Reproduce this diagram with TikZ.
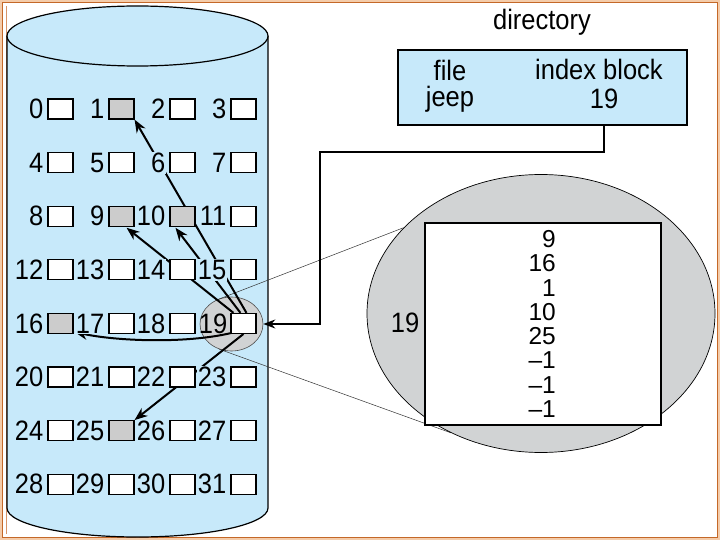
\documentclass[tikz,border=0pt]{standalone}
\usepackage{fontspec}
\setmainfont{Liberation Sans}
\usetikzlibrary{shapes.geometric,arrows.meta,calc}
\pgfdeclarelayer{bg}
\pgfdeclarelayer{mid}
\pgfsetlayers{bg,mid,main}
\definecolor{cyl}{RGB}{199,233,250}
\definecolor{blk}{RGB}{204,204,204}
\definecolor{ell}{RGB}{209,211,212}
\definecolor{frameo}{RGB}{196,104,40}
\definecolor{peach}{RGB}{244,204,170}
\tikzset{
  txt/.style={font=\fontsize{25.5}{30}\selectfont, inner sep=0pt, yscale=1.1},
  idxtxt/.style={font=\fontsize{24.5}{28}\selectfont, inner sep=0pt, anchor=east},
  blockbox/.style={draw=black, line width=1.1pt, fill=white, minimum width=25pt, minimum height=20pt, inner sep=0pt},
  usedbox/.style={blockbox, fill=blk},
  blabel/.style={txt, anchor=east, fill=cyl, inner sep=1pt},
  ptr/.style={line width=2pt, -{Stealth[length=13pt,width=10pt]}},
  thinline/.style={line width=0.5pt, draw=black!80},
}
\begin{document}
\begin{tikzpicture}[x=1pt,y=-1pt]
\useasboundingbox (0,0) rectangle (720,540);
\begin{pgfonlayer}{bg}
  \fill[peach] (0,0) rectangle (720,540);
  \filldraw[fill=white, draw=frameo, line width=1.6pt] (2.5,2.5) rectangle (717.5,537.5);
  \draw[frameo!70, line width=0.8pt] (6,6) -- (6,534);
  % cylinder
  \filldraw[fill=cyl, draw=black, line width=1.2pt] (7,36) -- (7,508) arc[start angle=180, end angle=0, x radius=130.5, y radius=29] -- (268,36);
  \filldraw[fill=cyl, draw=black, line width=1.2pt] (137.5,36) ellipse [x radius=130.5, y radius=30];
  \node[ellipse, draw=black!70, line width=0.6pt, fill=ell, minimum width=63pt, minimum height=54pt, inner sep=0pt] (sel) at (231.5,324) {};
\end{pgfonlayer}

% blocks
\foreach \r in {0,...,7}{
  \foreach \c in {0,...,3}{
    \pgfmathtruncatemacro{\n}{4*\r+\c}
    \pgfmathsetmacro{\xx}{60.5+61*\c}
    \pgfmathsetmacro{\yy}{109+53.6*\r}
    \node[blockbox] (b\n) at (\xx,\yy) {};
  }
}
\foreach \n in {1,9,10,16,25}{ \node[usedbox] at (b\n) {}; }
\foreach \n in {0,...,18,20,21,...,31}{
  \node[blabel] (l\n) at ($(b\n.west)+(-3,0)$) {\n};
}
\node[txt, anchor=east] (l19) at ($(b19.west)+(-3,0)$) {19};

% directory
\node[txt] (dirt) at (542,22) {directory};
\node[draw=black, line width=1.4pt, fill=cyl, minimum width=289pt, minimum height=75pt, inner sep=0pt] (dir) at (542.5,87.5) {};
\node[txt, anchor=base] (tfile) at (450,81) {file};
\node[txt, anchor=base] (tjeep) at (450,107) {jeep};
\node[txt, anchor=base] (tidx) at (599,80) {index block};
\node[txt, anchor=base] (t19) at (604,109) {19};

% magnified index block
\node[ellipse, draw=black, line width=0.7pt, fill=ell, minimum width=348pt, minimum height=278pt, inner sep=0pt] (bel) at (541,313.5) {};
\node[draw=black, line width=1.6pt, fill=white, minimum width=236pt, minimum height=202pt, inner sep=0pt] (ib) at (543,324) {};
\node[txt] (i19) at (405,323) {19};
\node[idxtxt] (e1) at (556,239) {9};
\node[idxtxt] (e2) at (556,263.3) {16};
\node[idxtxt] (e3) at (556,287.6) {1};
\node[idxtxt] (e4) at (556,311.9) {10};
\node[idxtxt] (e5) at (556,336.2) {25};
\node[idxtxt] (e6) at (556,360.5) {–1};
\node[idxtxt] (e7) at (556,384.8) {–1};
\node[idxtxt] (e8) at (556,409.1) {–1};

\coordinate (turn) at (320,152);
\draw[line width=1.8pt, -{Stealth[length=12pt,width=9pt]}] (dir.south -| t19.center) |- (turn) |- (sel.east);

\begin{pgfonlayer}{mid}
  \draw[thinline] (sel.124) -- (bel.148);
  \draw[thinline] (sel.244) -- (bel.233);
  \draw[ptr] ($(b19.north west)+(3,0)$) -- ($(b9.south east)+(-8,1)$);
  \draw[ptr] ($(b19.north west)+(10,0)$) -- ($(b10.south west)+(6,1)$);
  \draw[ptr] ($(b19.north west)+(16,0)$) -- (b1.south east);
  \draw[ptr] (b19.south) -- (b25.north east);
  \draw[ptr] ($(b19.south west)+(1,-1)$) .. controls (185,344) and (115,341) .. ($(b16.south east)+(1,-2)$);
\end{pgfonlayer}
\end{tikzpicture}
\end{document}
